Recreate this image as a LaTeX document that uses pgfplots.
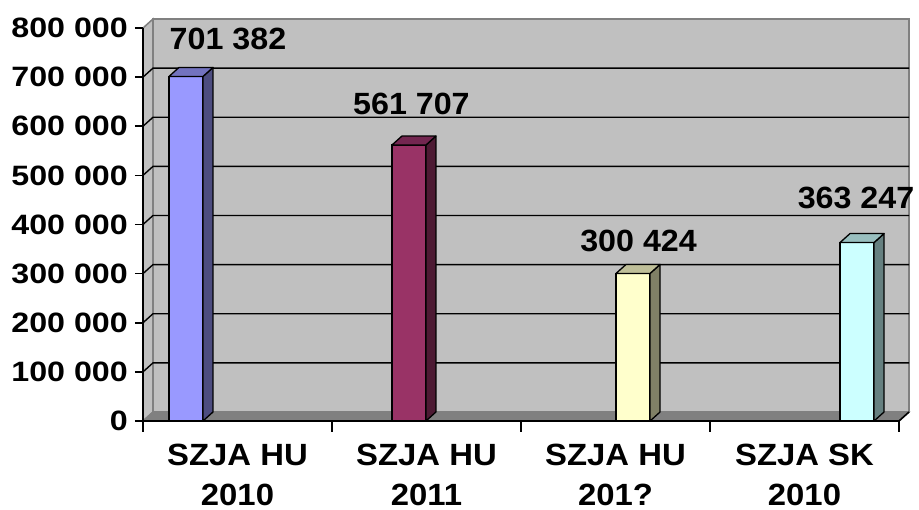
\documentclass[border=0pt]{standalone}
\usepackage{fontspec}
\setmainfont{Liberation Sans}
\newfontfamily\tickfont{Liberation Sans}[FakeStretch=1.15]
\newfontfamily\labfont{Liberation Sans}[FakeStretch=1.05]
\newfontfamily\catfont{Liberation Sans}[FakeStretch=1.07]
\usepackage{pgfplots}
\pgfplotsset{compat=1.18}
\definecolor{wallgray}{HTML}{C0C0C0}
\definecolor{floorgray}{HTML}{808080}
\definecolor{edgegray}{HTML}{808080}
\definecolor{aF}{HTML}{9999FF}\definecolor{aS}{HTML}{4D4D80}\definecolor{aT}{HTML}{7373BF}
\definecolor{bF}{HTML}{993366}\definecolor{bS}{HTML}{4D1A33}\definecolor{bT}{HTML}{732650}
\definecolor{cF}{HTML}{FFFFCC}\definecolor{cS}{HTML}{808066}\definecolor{cT}{HTML}{BFBF99}
\definecolor{dF}{HTML}{CCFFFF}\definecolor{dS}{HTML}{668080}\definecolor{dT}{HTML}{99BFBF}
\newcommand\barfaces[4]{%
  \filldraw[fill=#3, draw=black, line width=1.3pt, line join=round]
    ([xshift=17pt]axis cs:#1,0) -- ([xshift=17pt]axis cs:#1,#2) -- ([xshift=27pt,yshift=9pt]axis cs:#1,#2) -- ([xshift=27pt,yshift=9pt]axis cs:#1,0) -- cycle;
  \filldraw[fill=#4, draw=black, line width=1.3pt, line join=round]
    ([xshift=-17pt]axis cs:#1,#2) -- ([xshift=17pt]axis cs:#1,#2) -- ([xshift=27pt,yshift=9pt]axis cs:#1,#2) -- ([xshift=-7pt,yshift=9pt]axis cs:#1,#2) -- cycle;
}
\newcommand\gl[1]{\draw[black, line width=1.4pt] (axis cs:-0.5,#1) -- ([shift={(10pt,9pt)}]axis cs:-0.5,#1) -- ([shift={(10pt,9pt)}]axis cs:3.5,#1);}
\pgfplotsset{base/.style={
  at={(0,0)}, anchor=south west,
  scale only axis, width=756pt, height=393pt,
  xmin=-0.5, xmax=3.5, ymin=0, ymax=800000,
  clip=false}}
\begin{document}
\begin{tikzpicture}[x=1pt,y=1pt]
\useasboundingbox (-143,-89) rectangle (776,421);
\begin{axis}[base, axis lines=none, xtick=\empty, ytick=\empty]
  \filldraw[fill=wallgray, draw=edgegray, line width=1.5pt]
    ([shift={(10pt,9pt)}]axis cs:-0.5,0) rectangle ([shift={(10pt,9pt)}]axis cs:3.5,800000);
  \filldraw[fill=wallgray, draw=edgegray, line width=1.5pt]
    (axis cs:-0.5,0) -- (axis cs:-0.5,800000) -- ([shift={(10pt,9pt)}]axis cs:-0.5,800000) -- ([shift={(10pt,9pt)}]axis cs:-0.5,0) -- cycle;
  \gl{100000}\gl{200000}\gl{300000}\gl{400000}\gl{500000}\gl{600000}\gl{700000}
  \filldraw[fill=floorgray, draw=edgegray, line width=1.2pt]
    (axis cs:-0.5,0) -- (axis cs:3.5,0) -- ([shift={(10pt,9pt)}]axis cs:3.5,0) -- ([shift={(10pt,9pt)}]axis cs:-0.5,0) -- cycle;
  \draw[black, line width=1.6pt] (axis cs:3.5,0) -- ([shift={(10pt,9pt)}]axis cs:3.5,0);
\end{axis}
\begin{axis}[base,
  axis lines*=left,
  axis line style={black, line width=1.6pt},
  xtick={0,1,2,3},
  xticklabels={{SZJA HU\\2010},{SZJA HU\\2011},{SZJA HU\\201?},{SZJA SK\\2010}},
  minor xtick={-0.5,0.5,1.5,2.5,3.5},
  major x tick style={draw=none},
  minor tick length=11pt,
  major tick length=8pt,
  tick align=outside,
  tick style={black, line width=1.6pt},
  ytick={0,100000,200000,300000,400000,500000,600000,700000,800000},
  scaled y ticks=false,
  /pgf/number format/fixed,
  /pgf/number format/precision=0,
  /pgf/number format/1000 sep={\ },
  /pgf/number format/assume math mode=true,
  yticklabel style={font=\tickfont\fontsize{28}{32}\selectfont\bfseries, inner sep=0pt, anchor=east, xshift=-7pt},
  xticklabel style={font=\catfont\fontsize{30.7}{40}\selectfont\bfseries, align=center, inner sep=0pt, text depth=0pt, anchor=north, yshift=-15pt},
]
\addplot[ybar, bar width=34pt, bar shift=0pt, fill=aF, draw=black, line width=1.3pt,
  nodes near coords, every node near coord/.append style={font=\labfont\fontsize{30.7}{36}\selectfont\bfseries, inner sep=0pt, anchor=center, xshift=42pt, yshift=37.5pt}]
  coordinates {(-0.2725,701382)};
\barfaces{-0.2725}{701382}{aS}{aT}

\addplot[ybar, bar width=34pt, bar shift=0pt, fill=bF, draw=black, line width=1.3pt,
  nodes near coords, every node near coord/.append style={font=\labfont\fontsize{30.7}{36}\selectfont\bfseries, inner sep=0pt, anchor=center, xshift=2.5pt, yshift=41pt}]
  coordinates {(0.907,561707)};
\barfaces{0.907}{561707}{bS}{bT}

\addplot[ybar, bar width=34pt, bar shift=0pt, fill=cF, draw=black, line width=1.3pt,
  nodes near coords, every node near coord/.append style={font=\labfont\fontsize{30.7}{36}\selectfont\bfseries, inner sep=0pt, anchor=center, xshift=5.5pt, yshift=32pt}]
  coordinates {(2.093,300424)};
\barfaces{2.093}{300424}{cS}{cT}

\addplot[ybar, bar width=34pt, bar shift=0pt, fill=dF, draw=black, line width=1.3pt,
  nodes near coords, every node near coord/.append style={font=\labfont\fontsize{30.7}{36}\selectfont\bfseries, inner sep=0pt, anchor=center, xshift=-1pt, yshift=45pt}]
  coordinates {(3.278,363247)};
\barfaces{3.278}{363247}{dS}{dT}
\end{axis}
\end{tikzpicture}
\end{document}
